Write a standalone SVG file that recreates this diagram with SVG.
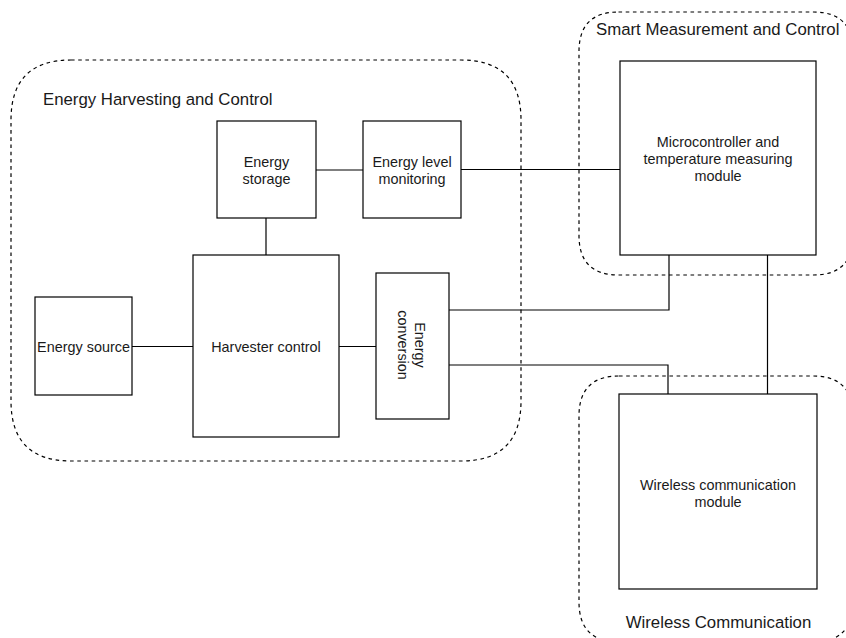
<svg xmlns="http://www.w3.org/2000/svg" width="846" height="638" viewBox="0 0 846 638">
  <style>
    .group { fill: none; stroke: #000; stroke-width: 1.2; stroke-dasharray: 3.6 3.6; }
    .box { fill: #fff; stroke: #000; stroke-width: 1.2; }
    .wire { fill: none; stroke: #000; stroke-width: 1.2; }
    .label { font-family: "Liberation Sans", Arial, sans-serif; font-size: 14.4px; fill: #1a1a1a; text-anchor: middle; }
    .title { font-family: "Liberation Sans", Arial, sans-serif; font-size: 16.8px; fill: #1a1a1a; }
  </style>
  <rect width="846" height="638" fill="#fff"/>

  <!-- dashed grouping regions -->
  <g id="group-harvesting">
    <path class="group" d="M 71 60 L 461 60 Q 521 60 521 120 L 521 401 Q 521 461 461 461 L 71 461 Q 11 461 11 401 L 11 120 Q 11 60 71 60 Z"/>
    <text class="title" x="43" y="105">Energy Harvesting and Control</text>
  </g>
  <g id="group-measurement">
    <path class="group" d="M 618.5 12 L 813.5 12 Q 853 12 853 51.5 L 853 235.5 Q 853 275 813.5 275 L 618.5 275 Q 579 275 579 235.5 L 579 51.5 Q 579 12 618.5 12 Z"/>
    <text class="title" x="596" y="35">Smart Measurement and Control</text>
  </g>
  <g id="group-wireless">
    <path class="group" d="M 619 376 L 813 376 Q 853 376 853 416 L 853 602 Q 853 642 813 642 L 619 642 Q 579 642 579 602 L 579 416 Q 579 376 619 376 Z"/>
    <text class="title" x="718.5" y="628" text-anchor="middle">Wireless Communication</text>
  </g>

  <!-- connectors -->
  <g id="connectors">
    <path class="wire" d="M 132 346.5 L 193 346.5"/>
    <path class="wire" d="M 266 255 L 266 218"/>
    <path class="wire" d="M 316 170 L 363 170"/>
    <path class="wire" d="M 461 169.5 L 620 169.5"/>
    <path class="wire" d="M 339 346.5 L 376 346.5"/>
    <path class="wire" d="M 449 310 L 669 310 L 669 255"/>
    <path class="wire" d="M 449 365 L 668 365 L 668 394"/>
    <path class="wire" d="M 767.5 255 L 767.5 394"/>
  </g>

  <!-- nodes -->
  <g id="energy-source">
    <rect class="box" x="35" y="297" width="97" height="98"/>
    <text class="label" x="83.5" y="351.5">Energy source</text>
  </g>
  <g id="harvester-control">
    <rect class="box" x="193" y="255" width="146" height="182"/>
    <text class="label" x="266" y="352">Harvester control</text>
  </g>
  <g id="energy-storage">
    <rect class="box" x="217" y="121" width="99" height="97"/>
    <text class="label" x="266.5" y="167">Energy</text>
    <text class="label" x="266.5" y="184">storage</text>
  </g>
  <g id="energy-level-monitoring">
    <rect class="box" x="363" y="121" width="98" height="97"/>
    <text class="label" x="412" y="167">Energy level</text>
    <text class="label" x="412" y="184">monitoring</text>
  </g>
  <g id="energy-conversion">
    <rect class="box" x="376" y="273" width="73" height="146"/>
    <g transform="translate(412,345) rotate(90)">
      <text class="label" x="0" y="-2.5">Energy</text>
      <text class="label" x="0" y="14.5">conversion</text>
    </g>
  </g>
  <g id="microcontroller">
    <rect class="box" x="620" y="61" width="196" height="194"/>
    <text class="label" x="718" y="147">Microcontroller and</text>
    <text class="label" x="718" y="164">temperature measuring</text>
    <text class="label" x="718" y="181">module</text>
  </g>
  <g id="wireless-module">
    <rect class="box" x="619" y="394" width="198" height="195"/>
    <text class="label" x="718" y="490">Wireless communication</text>
    <text class="label" x="718" y="507">module</text>
  </g>
</svg>
